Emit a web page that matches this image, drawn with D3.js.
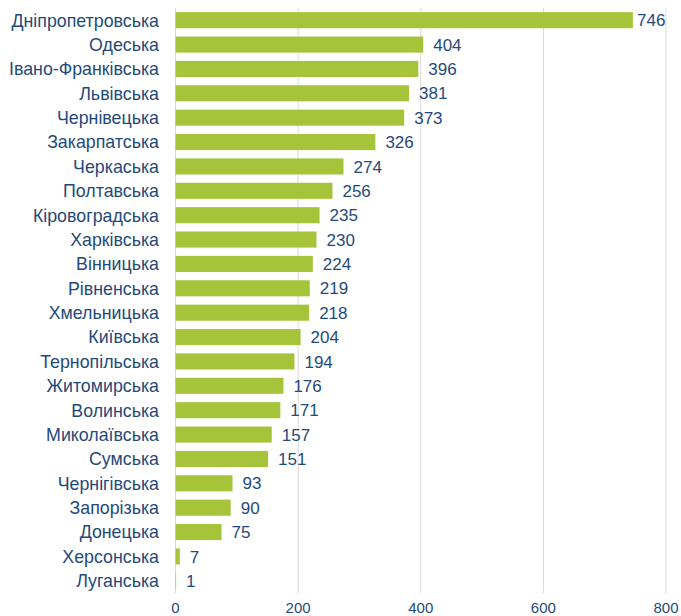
<!DOCTYPE html>
<html><head><meta charset="utf-8">
<script src="https://cdn.jsdelivr.net/npm/d3@7"></script>
<style>body{margin:0;background:#fff}</style>
</head><body>
<svg id="c" width="681" height="616"></svg>
<script>
const categories = ["Дніпропетровська","Одеська","Івано-Франківська","Львівська","Чернівецька","Закарпатська","Черкаська","Полтавська","Кіровоградська","Харківська","Вінницька","Рівненська","Хмельницька","Київська","Тернопільська","Житомирська","Волинська","Миколаївська","Сумська","Чернігівська","Запорізька","Донецька","Херсонська","Луганська"];
const values = [746,404,396,381,373,326,274,256,235,230,224,219,218,204,194,176,171,157,151,93,90,75,7,1];
const ticks = [0,200,400,600,800];

const svg = d3.select("#c");
const font = "'Liberation Sans', Arial, sans-serif";
const textColor = "#1f4a7a";
const x = d3.scaleLinear().domain([0,800]).range([175.5,666]);
const y = d3.scaleBand().domain(categories).range([8,593]).paddingInner(0.34).paddingOuter(0.17);

// grid
svg.append("g").selectAll("line").data(ticks).join("line")
  .attr("x1",d=>x(d)).attr("x2",d=>x(d)).attr("y1",8).attr("y2",593)
  .attr("stroke","#d9d9d9").attr("stroke-width",1);

// x tick labels
svg.append("g").selectAll("text").data(ticks).join("text")
  .attr("x",d=>x(d)).attr("y",613).attr("text-anchor","middle")
  .attr("font-family",font).attr("font-size",15).attr("fill",textColor).text(d=>d);

// bars
svg.append("g").selectAll("rect").data(values).join("rect")
  .attr("x",x(0)).attr("y",(d,i)=>y(categories[i]))
  .attr("width",d=>x(d)-x(0)).attr("height",y.bandwidth())
  .attr("fill","#a6c43a");

// category labels
svg.append("g").selectAll("text").data(categories).join("text")
  .attr("x",159).attr("y",d=>y(d)+y.bandwidth()/2).attr("dy","0.36em")
  .attr("text-anchor","end").attr("font-family",font).attr("font-size",17.8)
  .attr("fill",textColor).text(d=>d);

// value labels
svg.append("g").selectAll("text").data(values).join("text")
  .attr("x",d=>Math.min(x(d)+10, 637)).attr("y",(d,i)=>y(categories[i])+y.bandwidth()/2).attr("dy","0.36em")
  .attr("font-family",font).attr("font-size",17).attr("fill",textColor).text(d=>d);
</script>
</body></html>
